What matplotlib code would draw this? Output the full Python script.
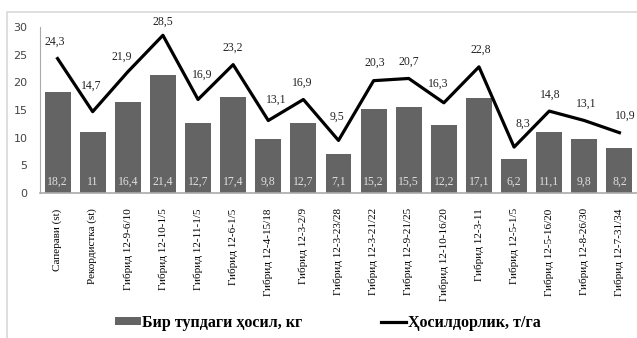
import numpy as np
import matplotlib.pyplot as plt
from matplotlib.patches import Rectangle

varieties = ['Саперави (st)', 'Рекордистка (st)', 'Гибрид 12-9-6/10', 'Гибрид 12-10-1/5',
             'Гибрид 12-11-1/5', 'Гибрид 12-6-1/5', 'Гибрид 12-4-15/18', 'Гибрид 12-3-2/9',
             'Гибрид 12-3-23/28', 'Гибрид 12-3-21/22', 'Гибрид 12-9-21/25', 'Гибрид 12-10-16/20',
             'Гибрид 12-3-11', 'Гибрид 12-5-1/5', 'Гибрид 12-5-16/20', 'Гибрид 12-8-26/30',
             'Гибрид 12-7-31/34']
per_plant = [18.2, 11, 16.4, 21.4, 12.7, 17.4, 9.8, 12.7, 7.1, 15.2, 15.5, 12.2, 17.1, 6.2, 11.1, 9.8, 8.2]
yield_tha = [24.3, 14.7, 21.9, 28.5, 16.9, 23.2, 13.1, 16.9, 9.5, 20.3, 20.7, 16.3, 22.8, 8.3, 14.8, 13.1, 10.9]

# hand-placed nudges (dx, dy in points) for the yield labels so they clear the line
label_nudge = [(-2, 12), (-1, 19), (-4, 11), (0, 10), (3, 18), (0, 12), (6, 15), (-1, 12), (-1, 17),
               (1, 13), (0, 12), (-4, 14), (1, 12), (6, 17), (1, 12), (1, 12), (4, 12)]

serif = 'Liberation Serif'

fig = plt.figure(figsize=(6.37, 3.38), dpi=100)
# light frame around the chart area
fig.patches.append(Rectangle((7 / 637, -0.01), 1, 1 - 12 / 338 + 0.01, transform=fig.transFigure,
                             facecolor='none', edgecolor='#d9d9d9', lw=1.2, zorder=-1))
ax = fig.add_axes([40 / 637, 145 / 338, 597 / 637, 166 / 338])
ax.patch.set_alpha(0)

x = np.arange(len(varieties))
bars = ax.bar(x, per_plant, width=0.74, color='#646464', label='Бир тупдаги ҳосил, кг', zorder=2)
line, = ax.plot(x, yield_tha, color='black', lw=2.3, label='Ҳосилдорлик, т/га', zorder=3)

for xi, v in zip(x, per_plant):
    ax.text(xi, 2.0, f'{v:g}'.replace('.', ','), ha='center', va='center',
            color='#e0e0e0', fontsize=8.5, family=serif, zorder=4)
for xi, v, (dx, dy) in zip(x, yield_tha, label_nudge):
    ax.annotate(f'{v:g}'.replace('.', ','), (xi, v), xytext=(dx, dy), textcoords='offset points',
                ha='center', va='center', fontsize=8.5, family=serif, color='#222222', zorder=4)

ax.set_xlim(-0.5, len(varieties) - 0.5)
ax.set_ylim(0, 30)
ax.set_yticks(range(0, 31, 5))
ax.tick_params(axis='y', length=0, labelsize=8, labelcolor='#444444', pad=9)
ax.set_xticks(x)
ax.set_xticklabels(varieties, rotation=90, fontsize=8, family=serif)
ax.tick_params(axis='x', length=0, pad=11)

for side in ['top', 'right']:
    ax.spines[side].set_visible(False)
ax.spines['left'].set_color('#aaaaaa')
ax.spines['bottom'].set_color('#aaaaaa')
ax.spines['bottom'].set_linewidth(1.2)

fig.legend([bars, line], [bars.get_label(), line.get_label()], loc='center',
           bbox_to_anchor=(0.515, 1 - 323 / 338), ncol=2, frameon=False,
           prop={'family': serif, 'weight': 'bold', 'size': 11.5}, handlelength=1.6,
           handletextpad=0.1, columnspacing=4.9, handleheight=0.4)

fig.savefig('out.png', dpi=100)
